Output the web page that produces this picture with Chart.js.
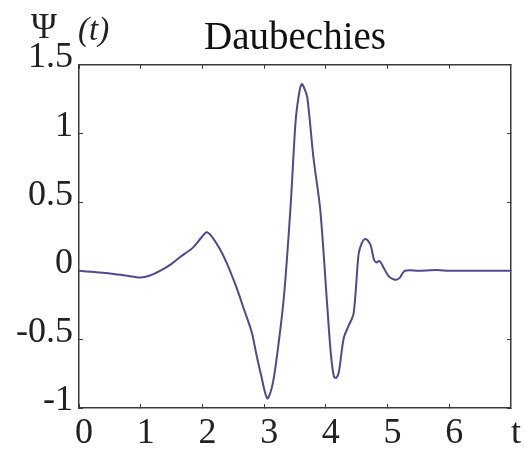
<!DOCTYPE html>
<html>
<head>
<meta charset="utf-8">
<script src="https://cdn.jsdelivr.net/npm/chart.js@4.4.0/dist/chart.umd.min.js"></script>
<style>
  html, body { margin: 0; padding: 0; background: #fff; }
  #wrap { width: 524px; height: 450px; }
</style>
</head>
<body>
<div id="wrap"><canvas id="psiChart" width="524" height="450"></canvas></div>
<script>
// Daubechies wavelet psi_5(t)
const tValues = [0, 0.25, 0.5, 0.75, 1.0, 1.15, 1.32, 1.5, 1.64, 1.85, 1.98, 2.07, 2.15, 2.28, 2.4,
    2.55, 2.68, 2.8, 2.87, 2.95, 3.05, 3.12, 3.19, 3.32, 3.43, 3.51, 3.57, 3.61, 3.65, 3.7,
    3.8, 3.91, 4.02, 4.08, 4.13, 4.17, 4.21, 4.29, 4.37, 4.45, 4.53, 4.58, 4.63, 4.68, 4.73,
    4.78, 4.82, 4.86, 4.89, 4.95, 5.01, 5.08, 5.14, 5.2, 5.28, 5.5, 5.8, 6.0, 6.5, 7.0];
const psiValues = [0, -0.01, -0.02, -0.035, -0.05, -0.035, 0, 0.05, 0.1, 0.17, 0.24, 0.28, 0.25, 0.16, 0.05,
    -0.12, -0.29, -0.45, -0.6, -0.76, -0.93, -0.86, -0.68, -0.19, 0.48, 1.09, 1.3, 1.36, 1.33, 1.26,
    0.82, 0.44, -0.24, -0.6, -0.77, -0.78, -0.74, -0.49, -0.4, -0.31, 0.12, 0.2, 0.23, 0.22, 0.18,
    0.08, 0.06, 0.07, 0.06, 0.01, -0.035, -0.06, -0.065, -0.05, 0, 0, 0.005, 0, 0, 0];
const xTicks = [0, 1, 2, 3, 4, 5, 6, 7];
const yTicks = [-1, -0.5, 0, 0.5, 1, 1.5];
const titleText = "Daubechies";
const xAxisName = "t";

document.addEventListener("DOMContentLoaded", function () {
    const serif = "'Liberation Serif', 'DejaVu Serif', serif";
    const frame = "#3a3a3a";

    // Psi_5(t) label at the top left, the "5" is shared with the 1.5 tick
    const psiLabel = {
        id: "psiLabel",
        afterDraw(chart) {
            const ctx = chart.ctx;
            ctx.save();
            ctx.fillStyle = "#222";
            ctx.textBaseline = "alphabetic";
            ctx.textAlign = "left";
            ctx.font = "35px " + serif;
            ctx.fillText("\u03A8", 31, 38);
            ctx.font = "italic 33px " + serif;
            ctx.fillText("(t)", 78, 40);
            ctx.restore();
        },
    };

    const tickStyle = {
        drawOnChartArea: false,
        drawTicks: true,
        tickLength: -4,
        color: frame,
        lineWidth: 1,
    };

    new Chart(document.getElementById("psiChart").getContext("2d"), {
        type: "line",
        data: {
            datasets: [
                {
                    data: tValues.map((t, i) => ({ x: t, y: psiValues[i] })),
                    borderColor: "#4f4a8e",
                    borderWidth: 2,
                    pointRadius: 0,
                    tension: 0.3,
                    fill: false,
                },
            ],
        },
        options: {
            responsive: false,
            animation: false,
            layout: { padding: { top: 0, left: 0, right: 0, bottom: 0 } },
            plugins: {
                legend: { display: false },
                tooltip: { enabled: false },
                title: {
                    display: true,
                    text: titleText,
                    fullSize: false,
                    color: "#111",
                    font: { family: serif, size: 39, weight: "normal" },
                    padding: { top: 15, bottom: 3 },
                },
            },
            scales: {
                x: {
                    type: "linear",
                    min: 0,
                    max: 7,
                    afterBuildTicks: (s) => { s.ticks = xTicks.map((v) => ({ value: v })); },
                    afterFit: (s) => { s.height = 42; },
                    grid: tickStyle,
                    border: { color: frame, width: 1.5 },
                    ticks: {
                        color: "#222",
                        padding: 8,
                        labelOffset: 5,
                        maxRotation: 0,
                        autoSkip: false,
                        font: { family: serif, size: 36 },
                        callback: (v) => (v === 7 ? xAxisName : v),
                    },
                },
                x2: {
                    type: "linear",
                    position: "top",
                    min: 0,
                    max: 7,
                    afterBuildTicks: (s) => { s.ticks = xTicks.map((v) => ({ value: v })); },
                    afterFit: (s) => { s.height = 0; },
                    grid: tickStyle,
                    border: { color: frame, width: 1.5 },
                    ticks: { display: false },
                },
                y: {
                    min: -1,
                    max: 1.5,
                    afterBuildTicks: (s) => { s.ticks = yTicks.map((v) => ({ value: v })); },
                    afterFit: (s) => { s.width = 79; },
                    grid: tickStyle,
                    border: { color: frame, width: 1.5 },
                    ticks: {
                        color: "#222",
                        padding: 10,
                        labelOffset: -7,
                        font: { family: serif, size: 36 },
                        callback: (v) => v,
                    },
                },
                y2: {
                    position: "right",
                    min: -1,
                    max: 1.5,
                    afterBuildTicks: (s) => { s.ticks = yTicks.map((v) => ({ value: v })); },
                    afterFit: (s) => { s.width = 1; },
                    grid: tickStyle,
                    border: { color: frame, width: 1.5 },
                    ticks: { display: false },
                },
            },
        },
        plugins: [psiLabel],
    });
});
</script>
</body>
</html>
